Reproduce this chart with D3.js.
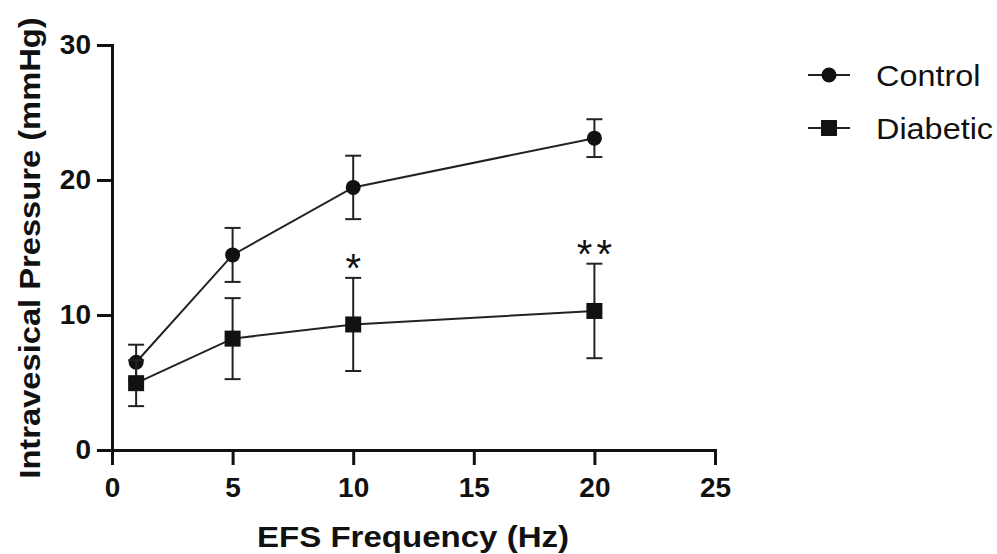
<!DOCTYPE html>
<html>
<head>
<meta charset="utf-8">
<script src="https://cdn.jsdelivr.net/npm/d3@7"></script>
<style>
  body { margin: 0; background: #fff; }
  svg { display: block; font-family: 'Liberation Sans', Arial, sans-serif; }
  .axis path, .axis line { stroke: #111; stroke-width: 3; }
  .axis text { font-size: 28px; font-weight: bold; fill: #111; }
</style>
</head>
<body>
<div id="chart"></div>
<script>
// EFS frequencies (Hz)
var frequencies = [1, 5, 10, 20];

// mean intravesical pressure (mmHg) and SEM
var control_mean  = [6.5, 14.45, 19.45, 23.1];
var control_err   = [1.3, 2.0, 2.35, 1.4];
var diabetic_mean = [4.95, 8.25, 9.3, 10.3];
var diabetic_err  = [1.7, 3.0, 3.45, 3.5];

// significance marks above the diabetic group
var sig_freq   = [10, 20];
var sig_labels = ['*', '**'];

var x_ticks = [0, 5, 10, 15, 20, 25];
var y_ticks = [0, 10, 20, 30];

var series_names = ['Control', 'Diabetic'];

var width  = 997;
var height = 554;

var svg = d3.select('#chart')
    .append('svg')
    .attr('width', width)
    .attr('height', height);

var x_scale = d3.scaleLinear().domain([0, 25]).range([112, 715]);
var y_scale = d3.scaleLinear().domain([0, 30]).range([450, 45]);

// the reference font runs a bit wider than Arial, so stretch text horizontally
function wideText(x, y, rot, sx, size, weight, str) {
    return svg.append('text')
        .attr('transform', 'translate(' + x + ',' + y + ') rotate(' + rot + ') scale(' + sx + ',1)')
        .attr('text-anchor', 'middle')
        .style('font-size', size + 'px')
        .style('font-weight', weight)
        .attr('fill', '#111')
        .text(str);
}

// axes
svg.append('g')
    .attr('class', 'axis')
    .attr('transform', 'translate(0,' + y_scale(0) + ')')
    .call(d3.axisBottom(x_scale).tickValues(x_ticks).tickSizeOuter(0).tickSize(15).tickPadding(12));

svg.append('g')
    .attr('class', 'axis')
    .attr('transform', 'translate(' + x_scale(0) + ',0)')
    .call(d3.axisLeft(y_scale).tickValues(y_ticks).tickSizeOuter(0).tickSize(15).tickPadding(6));

// axis titles
wideText(40, 248, -90, 1.09, 30, 'bold', 'Intravesical Pressure (mmHg)');
wideText(413, 547, 0, 1.14, 29, 'bold', 'EFS Frequency (Hz)');

var series = [
    { name: series_names[0], mean: control_mean,  err: control_err,  shape: 'circle' },
    { name: series_names[1], mean: diabetic_mean, err: diabetic_err, shape: 'square' }
];

var line = d3.line()
    .x(function(d) { return x_scale(d.x); })
    .y(function(d) { return y_scale(d.y); });

function drawMarker(g, shape, cx, cy) {
    if (shape == 'circle') {
        g.append('circle').attr('cx', cx).attr('cy', cy).attr('r', 7.5).attr('fill', '#111');
    } else {
        g.append('rect').attr('x', cx - 8).attr('y', cy - 8).attr('width', 16).attr('height', 16).attr('fill', '#111');
    }
}

series.forEach(function(s) {
    var pts = frequencies.map(function(f, i) {
        return { x: f, y: s.mean[i], e: s.err[i] };
    });
    var g = svg.append('g');

    // error bars
    pts.forEach(function(p) {
        var cx = x_scale(p.x);
        var y1 = y_scale(p.y + p.e);
        var y2 = y_scale(p.y - p.e);
        g.append('line').attr('x1', cx).attr('x2', cx).attr('y1', y1).attr('y2', y2)
            .attr('stroke', '#222').attr('stroke-width', 2);
        [y1, y2].forEach(function(yy) {
            g.append('line').attr('x1', cx - 8).attr('x2', cx + 8).attr('y1', yy).attr('y2', yy)
                .attr('stroke', '#222').attr('stroke-width', 2);
        });
    });

    g.append('path')
        .datum(pts)
        .attr('d', line)
        .attr('fill', 'none')
        .attr('stroke', '#222')
        .attr('stroke-width', 2);

    pts.forEach(function(p) {
        drawMarker(g, s.shape, x_scale(p.x), y_scale(p.y));
    });
});

// significance asterisks
sig_freq.forEach(function(f, i) {
    var idx = frequencies.indexOf(f);
    svg.append('text')
        .attr('x', x_scale(f) + 2)
        .attr('y', y_scale(diabetic_mean[idx] + diabetic_err[idx]) + 4)
        .attr('text-anchor', 'middle')
        .style('font-size', '40px')
        .style('letter-spacing', '4px')
        .attr('fill', '#111')
        .text(sig_labels[i]);
});

// legend
var legend_y = [75, 128];
series.forEach(function(s, i) {
    var g = svg.append('g');
    g.append('line').attr('x1', 808).attr('x2', 850).attr('y1', legend_y[i]).attr('y2', legend_y[i])
        .attr('stroke', '#222').attr('stroke-width', 2);
    drawMarker(g, s.shape, 829, legend_y[i]);
    g.append('text')
        .attr('transform', 'translate(876,' + legend_y[i] + ') scale(1.08,1)')
        .attr('dy', '0.35em')
        .style('font-size', '30px')
        .attr('fill', '#111')
        .text(s.name);
});
</script>
</body>
</html>
